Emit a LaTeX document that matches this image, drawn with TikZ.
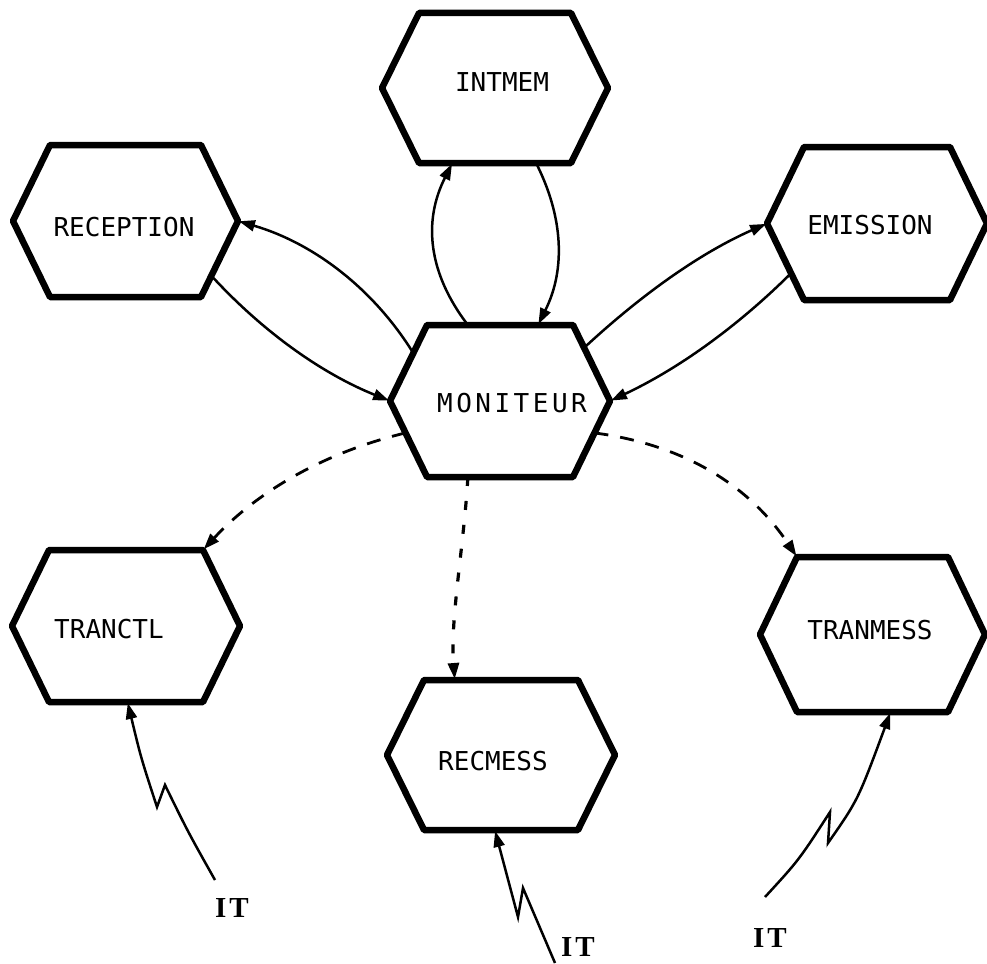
\documentclass[tikz,border=0pt]{standalone}
\usepackage{fontspec}
\newfontfamily\labfont{DejaVu Sans Mono}
\newfontfamily\itlabfont{Liberation Serif}
\usetikzlibrary{calc,arrows.meta}

\newcommand\hexnode[4]{%
  \node[hexbox, minimum width=#3pt, minimum height=#4pt] (#1) at #2 {};
  \draw[hexline] (#1.west) -- ($(#1.north west)+(37,0)$) coordinate (#1-nw)
     -- ($(#1.north east)+(-37,0)$) coordinate (#1-ne) -- (#1.east)
     -- ($(#1.south east)+(-37,0)$) coordinate (#1-se)
     -- ($(#1.south west)+(37,0)$) coordinate (#1-sw) -- cycle;
}

\begin{document}
\begin{tikzpicture}[x=1pt,y=-1pt,
  hexbox/.style={shape=rectangle,inner sep=0pt,outer sep=0pt},
  hexline/.style={line width=6.5pt,line join=round},
  lbl/.style={font=\labfont\fontsize{26}{26}\selectfont,inner sep=0pt},
  itlbl/.style={font=\itlabfont\bfseries\fontsize{29}{29}\selectfont,inner sep=0pt},
  conn/.style={line width=2.5pt,-{Triangle[length=16pt,width=11pt]},shorten >=1pt},
  dashconn/.style={conn,line width=2.8pt,dash pattern=on 14pt off 12pt},
  dotconn/.style={conn,line width=3.2pt,dash pattern=on 9pt off 15pt},
]
\useasboundingbox (0,0) rectangle (987,963);

% hexagons
\hexnode{intmem}{(495,88)}{226}{150}
\hexnode{reception}{(125.5,221)}{225}{152}
\hexnode{emission}{(877,223.5)}{220}{153}
\hexnode{mon}{(500,401)}{220}{152}
\hexnode{tranctl}{(126,626)}{228}{152}
\hexnode{recmess}{(501,755)}{228}{150}
\hexnode{tranmess}{(872.5,634.5)}{225}{155}

% labels
\node[lbl] (intmem-t) at (502,82) {INTMEM};
\node[lbl] (reception-t) at (124,227) {RECEPTION};
\node[lbl] (emission-t) at (870,225) {EMISSION};
\node[lbl] (mon-t) at (512,403) {M\kern3.5pt O\kern3.5pt N\kern3.5pt I\kern3.5pt T\kern3.5pt E\kern3.5pt U\kern3.5pt R};
\node[lbl] (tranctl-t) at (109,629) {TRANCTL};
\node[lbl] (recmess-t) at (493,761) {RECMESS};
\node[lbl] (tranmess-t) at (870,630) {TRANMESS};

% MONITEUR <-> INTMEM
\draw[conn] ($(mon-nw)!0.28!(mon-ne)$) .. controls (428,273) and (423,221) .. ($(intmem-sw)!0.22!(intmem-se)$);
\draw[conn] ($(intmem-sw)!0.77!(intmem-se)$) .. controls (563,216) and (566,269) .. ($(mon-nw)!0.76!(mon-ne)$);

% MONITEUR <-> RECEPTION
\draw[conn] ($(mon.west)!0.63!(mon-nw)$) .. controls (373,288) and (313,243) .. (reception.east);
\draw[conn] ($(reception.east)!0.72!(reception-se)$) .. controls (264,333) and (323,374) .. (mon.west);

% MONITEUR <-> EMISSION
\draw[conn] ($(mon-ne)!0.3!(mon.east)$) .. controls (641,295) and (700,253) .. (emission.west);
\draw[conn] ($(emission.west)!0.65!(emission-sw)$) .. controls (737,327) and (678,369) .. (mon.east);

% dashed connectors
\draw[dashconn] ($(mon.west)!0.42!(mon-sw)$) .. controls (322,453) and (256,493) .. (tranctl-ne);
\draw[dashconn] ($(mon.east)!0.42!(mon-se)$) .. controls (687,445) and (751,488) .. (tranmess-nw);
\draw[dotconn] ($(mon-sw)!0.28!(mon-se)$) .. controls (464,545) and (450,620) .. ($(recmess-nw)!0.2!(recmess-ne)$);

% interrupts
\coordinate (it1-end) at (215,880);
\coordinate (it2-end) at (555,963);
\coordinate (it3-end) at (765,897);
\draw[conn] (it1-end) .. controls (188,832) .. (165,785) -- (157,807) .. controls (141,758) .. ($(tranctl-sw)!0.51!(tranctl-se)$);
\draw[conn] (it2-end) -- (523,888) -- (518,917) -- ($(recmess-sw)!0.46!(recmess-se)$);
\draw[conn] (it3-end) .. controls (799,860) .. (830,812) -- (828,843) .. controls (858,800) .. ($(tranmess-sw)!0.62!(tranmess-se)$);

\node[itlbl] (it1) at (232,908) {I\kern3pt T};
\node[itlbl] (it2) at (578,947) {I\kern3pt T};
\node[itlbl] (it3) at (770,938) {I\kern3pt T};
\end{tikzpicture}
\end{document}
